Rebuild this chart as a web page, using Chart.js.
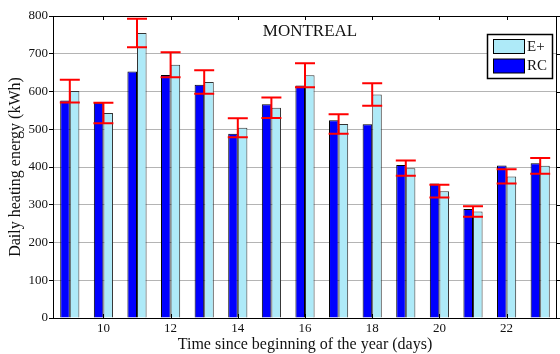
<!DOCTYPE html>
<html>
<head>
<meta charset="utf-8">
<script src="https://cdn.jsdelivr.net/npm/chart.js@4/dist/chart.umd.min.js"></script>
<style>
html,body{margin:0;padding:0;background:#fff;}
#wrap{width:560px;height:354px;position:relative;}
</style>
</head>
<body>
<div id="wrap"><canvas id="c" width="560" height="354"></canvas></div>
<script>
const days = ['9','10','11','12','13','14','15','16','17','18','19','20','21','22','23'];
const rcValues = [576,570,653,644,618,488,566,616,524,513,405,356,289,404,410];
const eplusValues = [601,543,755,671,625,504,557,643,514,592,397,336,282,375,403];
const eplusErr = [30,27,38,33,31,25,27,32,26,30,20,17,14,19,21];
const yTicks = [0,100,200,300,400,500,600,700,800];
const chartTitle = 'MONTREAL';
const seriesNames = ['RC','E+'];

const SERIF = "'Liberation Serif','DejaVu Serif',serif";
const RC_COLOR = '#0000ff';
const EP_COLOR = '#aeeaf8';

const decor = {
  id: 'decor',
  afterDatasetsDraw(chart) {
    const ctx = chart.ctx, xs = chart.scales.x, ys = chart.scales.y, a = chart.chartArea;
    ctx.save();
    // error bars
    ctx.strokeStyle = '#ff0000';
    ctx.lineWidth = 2;
    for (let i = 0; i < days.length; i++) {
      const x = xs.getPixelForValue(i);
      const yt = ys.getPixelForValue(eplusValues[i] + eplusErr[i]);
      const yb = ys.getPixelForValue(eplusValues[i] - eplusErr[i]);
      const hw = 10;
      ctx.beginPath();
      ctx.moveTo(x, yt); ctx.lineTo(x, yb);
      ctx.moveTo(x - hw, yt); ctx.lineTo(x + hw, yt);
      ctx.moveTo(x - hw, yb); ctx.lineTo(x + hw, yb);
      ctx.stroke();
    }
    // frame
    ctx.strokeStyle = '#000';
    ctx.lineWidth = 1;
    ctx.strokeRect(Math.round(a.left) + 0.5, Math.round(a.top) + 0.5, Math.round(a.right - a.left) - 1, Math.round(a.bottom - a.top));
    // top inward ticks and bottom inward ticks at labelled days
    ctx.beginPath();
    for (let i = 0; i < days.length; i++) {
      if (parseInt(days[i]) % 2 !== 0) continue;
      const x = Math.round(xs.getPixelForValue(i)) + 0.5;
      ctx.moveTo(x, a.top); ctx.lineTo(x, a.top + 4);
      ctx.moveTo(x, a.bottom); ctx.lineTo(x, a.bottom - 4);
    }
    // right ticks
    yTicks.forEach(v => {
      const y = Math.round(ys.getPixelForValue(v)) + 0.5;
      ctx.moveTo(a.right - 1, y); ctx.lineTo(a.right + 3, y);
    });
    ctx.stroke();
    // title
    ctx.fillStyle = '#111';
    ctx.font = '17px ' + SERIF;
    ctx.textAlign = 'center';
    ctx.textBaseline = 'middle';
    ctx.fillText(chartTitle, 310, 32);
    // legend
    const lx = 487, ly = 34, lw = 65, lh = 44;
    ctx.fillStyle = '#fff';
    ctx.fillRect(lx, ly, lw, lh);
    ctx.lineWidth = 1.5;
    ctx.strokeStyle = '#000';
    ctx.strokeRect(lx + 0.5, ly + 0.5, lw, lh);
    ctx.lineWidth = 1;
    const entries = [[seriesNames[1], EP_COLOR], [seriesNames[0], RC_COLOR]];
    entries.forEach((e, k) => {
      const py = 39.5 + k * 19.5;
      ctx.fillStyle = e[1];
      ctx.fillRect(493.5, py, 31, 14);
      ctx.strokeStyle = '#000';
      ctx.strokeRect(493.5, py, 31, 14);
      ctx.fillStyle = '#111';
      ctx.font = '15px ' + SERIF;
      ctx.textAlign = 'left';
      ctx.textBaseline = 'middle';
      ctx.fillText(e[0], 527, py + 7.5);
    });
    ctx.restore();
  }
};

new Chart(document.getElementById('c'), {
  type: 'bar',
  data: {
    labels: days,
    datasets: [
      {label: seriesNames[0], data: rcValues, backgroundColor: RC_COLOR, borderColor: '#000', borderWidth: 1, borderSkipped: 'bottom'},
      {label: seriesNames[1], data: eplusValues, backgroundColor: EP_COLOR, borderColor: '#333', borderWidth: 1, borderSkipped: 'bottom'}
    ]
  },
  options: {
    responsive: false,
    animation: false,
    devicePixelRatio: 1,
    layout: {padding: {left: 0, top: 16, right: 3, bottom: 0}},
    datasets: {bar: {categoryPercentage: 0.57, barPercentage: 1.0}},
    plugins: {legend: {display: false}, tooltip: {enabled: false}, title: {display: false}},
    scales: {
      x: {
        grid: {display: false, drawTicks: false},
        border: {display: false},
        ticks: {
          autoSkip: false, maxRotation: 0, padding: 3, color: '#111',
          font: {family: SERIF, size: 13},
          callback: function(v, i) { const d = days[i]; return parseInt(d) % 2 === 0 ? d : ''; }
        },
        title: {display: true, text: 'Time since beginning of the year (days)', color: '#111', font: {family: SERIF, size: 16}, padding: {top: 0, bottom: 0}},
        afterFit(s) { s.height = 36; }
      },
      y: {
        min: 0, max: 800,
        afterBuildTicks(s) { s.ticks = yTicks.map(v => ({value: v})); },
        grid: {color: '#b4b4b4', lineWidth: 1, tickLength: 4, tickColor: '#000'},
        border: {display: true, color: '#000'},
        ticks: {padding: 1, color: '#111', font: {family: SERIF, size: 13}},
        title: {display: true, text: 'Daily heating energy (kWh)', color: '#111', font: {family: SERIF, size: 16}, padding: {top: 6, bottom: 0}},
        afterFit(s) { s.width = 53; }
      }
    }
  },
  plugins: [decor]
});
</script>
</body>
</html>
